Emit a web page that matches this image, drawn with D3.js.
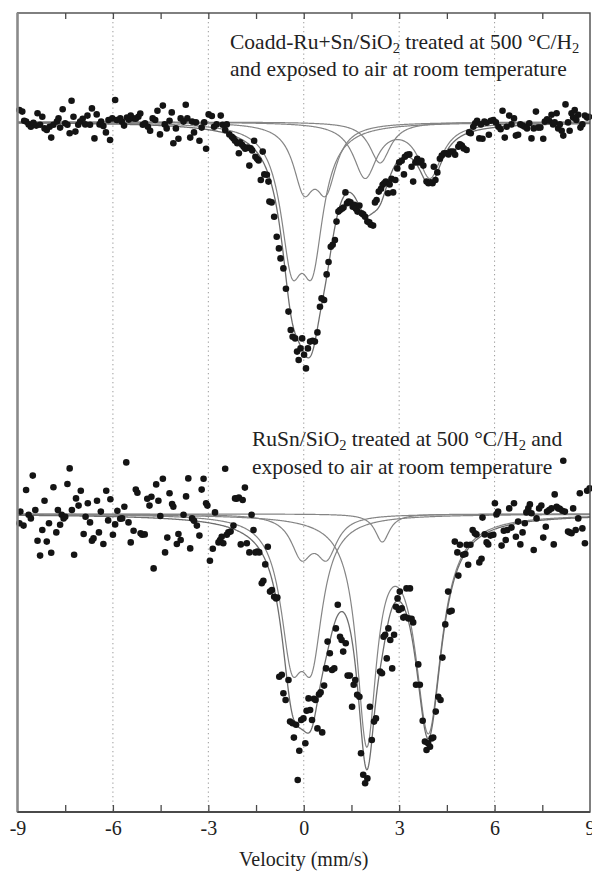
<!DOCTYPE html>
<html>
<head>
<meta charset="utf-8">
<script src="https://cdn.jsdelivr.net/npm/d3@7"></script>
<style>
  body { margin: 0; background: #fff; }
  text { font-family: "Liberation Serif", "Times New Roman", serif; fill: #222; }
</style>
</head>
<body>
<svg id="chart" width="592" height="871"></svg>
<script>
// Mössbauer spectra: velocity (mm/s) vs. relative transmission (%)

// Coadd-Ru+Sn/SiO2 after 500 °C/H2 and air exposure
const coaddSpectrum = [
[-8.94,100.30],[-8.85,100.26],[-8.79,100.03],[-8.73,100.01],[-8.65,99.94],[-8.58,99.88],[-8.50,99.98],[-8.41,99.91],[-8.37,100.22],[-8.29,99.93],[-8.22,100.13],[-8.15,99.84],[-8.08,99.80],[-7.99,99.88],[-7.94,99.61],[-7.87,99.93],[-7.76,100.01],[-7.71,100.09],[-7.66,99.86],[-7.58,100.32],[-7.50,99.97],[-7.43,99.93],[-7.36,99.72],[-7.30,100.53],[-7.24,100.13],[-7.18,99.76],[-7.09,99.93],[-7.03,100.01],[-6.95,100.08],[-6.87,99.94],[-6.80,100.16],[-6.72,99.93],[-6.66,100.34],[-6.58,99.59],[-6.51,100.19],[-6.42,99.94],[-6.37,100.01],[-6.30,99.90],[-6.22,99.74],[-6.14,100.05],[-6.09,99.55],[-6.02,100.09],[-5.93,100.55],[-5.88,100.05],[-5.77,100.09],[-5.72,100.01],[-5.65,99.91],[-5.56,100.11],[-5.50,100.06],[-5.44,100.16],[-5.35,100.09],[-5.28,100.08],[-5.20,100.13],[-5.14,100.21],[-5.06,99.93],[-4.99,99.97],[-4.90,99.88],[-4.83,99.78],[-4.75,100.09],[-4.67,100.05],[-4.60,100.28],[-4.52,99.69],[-4.43,100.41],[-4.37,99.94],[-4.31,99.84],[-4.22,100.03],[-4.15,100.24],[-4.10,99.47],[-4.02,99.84],[-3.94,99.58],[-3.87,100.09],[-3.78,100.01],[-3.71,100.43],[-3.66,100.09],[-3.57,99.61],[-3.51,100.01],[-3.45,99.74],[-3.39,99.99],[-3.28,99.53],[-3.21,99.86],[-3.13,99.99],[-3.07,99.33],[-2.99,100.19],[-2.89,100.15],[-2.82,99.88],[-2.74,99.94],
[-2.61,100.16],[-2.55,99.93],[-2.47,99.80],[-2.42,99.94],[-2.34,99.69],[-2.26,99.63],[-2.21,99.59],[-2.16,99.53],[-2.09,99.47],[-2.04,99.22],[-2.00,99.49],[-1.94,99.43],[-1.89,99.38],[-1.84,99.33],[-1.77,99.36],[-1.71,98.91],[-1.67,99.34],[-1.62,99.29],[-1.56,99.53],[-1.52,99.13],[-1.47,99.08],[-1.42,99.04],[-1.35,98.55],[-1.29,99.26],[-1.24,98.69],[-1.16,98.68],[-1.11,98.51],[-1.08,98.01],[-1.01,97.99],[-0.93,97.63],[-0.85,97.13],[-0.78,96.84],[-0.73,96.59],[-0.64,96.34],[-0.56,95.83],[-0.48,95.26],[-0.41,94.80],[-0.35,94.63],[-0.27,94.59],[-0.21,94.26],[-0.16,94.05],[-0.10,94.34],[-0.05,94.59],[0.01,94.18],[0.07,93.84],[0.13,94.34],[0.20,94.51],[0.28,94.53],[0.35,94.51],[0.43,94.74],[0.51,95.38],[0.56,95.59],[0.64,95.55],[0.72,96.19],[0.78,96.50],[0.85,96.88],[0.91,96.93],[0.98,97.05],[1.03,97.51],[1.09,97.76],[1.14,97.80],[1.20,97.83],[1.25,97.86],[1.31,98.24],[1.36,97.97],[1.41,98.01],[1.47,97.99],[1.54,97.88],[1.59,97.93],[1.64,97.83],[1.69,97.76],[1.75,97.91],[1.82,97.72],[1.87,97.69],[1.93,97.63],[2.00,97.51],[2.06,97.49],[2.11,97.43],[2.18,97.41],[2.24,97.99],[2.29,98.05],[2.36,98.26],[2.43,98.33],[2.48,98.43],[2.53,98.47],[2.58,98.51],[2.65,98.22],[2.70,98.44],[2.76,98.58],[2.81,98.24],[2.88,98.55],[2.94,98.84],[3.00,98.99],
[3.08,99.03],[3.15,98.69],[3.18,99.13],[3.25,99.18],[3.32,99.19],[3.39,98.88],[3.44,98.51],[3.51,98.99],[3.57,99.08],[3.63,98.99],[3.70,99.03],[3.76,98.91],[3.86,98.51],[3.92,98.47],[3.99,98.49],[4.05,98.47],[4.09,98.88],[4.14,98.55],[4.20,98.74],[4.28,99.08],[4.34,99.16],[4.41,99.22],[4.49,99.22],[4.55,99.19],[4.62,99.26],[4.70,99.26],[4.76,99.18],[4.86,99.38],[4.91,99.44],[4.97,99.41],[5.03,99.34],[5.12,99.30],[5.20,99.74],[5.25,99.72],[5.33,99.88],[5.39,99.97],[5.45,100.03],[5.52,99.59],[5.57,99.94],[5.62,99.58],[5.68,100.01],[5.75,99.98],[5.82,99.68],[5.88,100.03],[5.96,100.05],[6.04,99.99],[6.12,99.88],[6.19,99.82],[6.25,100.28],[6.32,99.61],[6.38,99.88],[6.46,100.16],[6.53,99.94],[6.61,100.09],[6.67,99.66],[6.74,99.68],[6.81,99.94],[6.88,99.91],[6.95,99.88],[7.02,99.84],[7.09,99.97],[7.16,99.59],[7.23,99.84],[7.30,100.26],[7.37,99.86],[7.44,99.86],[7.53,99.58],[7.58,100.01],[7.65,100.07],[7.72,100.03],[7.79,100.18],[7.84,99.94],[7.89,99.99],[7.95,100.22],[8.00,99.84],[8.05,99.94],[8.11,99.78],[8.16,99.66],[8.23,100.44],[8.31,99.99],[8.36,99.78],[8.42,100.22],[8.47,100.11],[8.52,100.30],[8.57,100.05],[8.63,100.18],[8.70,99.86],[8.76,99.94],[8.84,100.16],[8.91,100.11],[8.97,100.13]
];

// RuSn/SiO2 after 500 °C/H2 and air exposure
const rusnSpectrum = [
[-8.94,99.77],[-8.91,100.06],[-8.81,99.71],[-8.73,100.60],[-8.65,99.98],[-8.58,99.89],[-8.52,100.96],[-8.44,100.10],[-8.37,99.33],[-8.29,98.96],[-8.22,99.60],[-8.15,100.33],[-8.08,99.31],[-8.01,99.77],[-7.94,99.03],[-7.87,100.67],[-7.78,99.54],[-7.73,100.10],[-7.66,99.73],[-7.61,99.98],[-7.55,99.89],[-7.50,99.93],[-7.43,100.75],[-7.36,101.14],[-7.29,100.10],[-7.22,98.98],[-7.16,100.39],[-7.08,100.21],[-7.01,100.58],[-6.92,99.50],[-6.86,99.93],[-6.79,100.27],[-6.72,99.79],[-6.66,99.33],[-6.61,99.39],[-6.50,100.33],[-6.44,99.54],[-6.38,100.06],[-6.30,99.25],[-6.21,100.58],[-6.15,99.84],[-6.08,100.37],[-6.00,99.48],[-5.93,99.74],[-5.86,100.08],[-5.77,99.88],[-5.71,99.89],[-5.64,100.18],[-5.58,101.29],[-5.51,99.79],[-5.44,99.29],[-5.35,99.58],[-5.28,100.61],[-5.23,100.53],[-5.13,99.52],[-5.08,99.48],[-5.00,99.49],[-4.92,100.38],[-4.85,100.21],[-4.79,100.43],[-4.72,98.64],[-4.64,100.74],[-4.57,100.33],[-4.51,99.95],[-4.43,100.88],[-4.36,99.04],[-4.29,99.41],[-4.22,100.52],[-4.14,100.25],[-4.10,100.18],[-3.99,99.25],[-3.94,99.50],[-3.87,99.35],[-3.78,99.98],[-3.70,100.44],[-3.63,100.89],[-3.57,99.14],[-3.51,99.89],[-3.45,99.83],[-3.36,99.71],[-3.28,99.46],[-3.21,100.61],[-3.15,100.88],[-3.07,100.27],[-3.03,100.21],[-2.95,98.83],[-2.86,99.13],[-2.79,100.04],[-2.68,99.29],
[-2.63,99.35],[-2.58,99.43],[-2.53,99.27],[-2.47,101.13],[-2.42,99.48],[-2.37,99.54],[-2.30,99.56],[-2.21,99.71],[-2.16,100.39],[-2.11,100.38],[-2.04,100.41],[-1.98,99.24],[-1.92,100.35],[-1.85,100.66],[-1.79,99.27],[-1.71,99.04],[-1.64,99.98],[-1.58,99.60],[-1.52,99.04],[-1.46,99.06],[-1.40,99.04],[-1.32,98.27],[-1.27,98.33],[-1.21,98.74],[-1.13,99.18],[-1.06,98.06],[-1.00,98.10],[-0.93,97.93],[-0.87,97.89],[-0.83,97.91],[-0.77,95.93],[-0.69,95.98],[-0.64,95.52],[-0.57,95.35],[-0.48,95.85],[-0.43,94.81],[-0.35,94.77],[-0.31,94.41],[-0.24,94.73],[-0.19,93.35],[-0.14,94.08],[-0.08,94.85],[-0.01,94.89],[0.05,94.27],[0.09,95.08],[0.15,95.39],[0.20,95.10],[0.26,94.85],[0.32,95.38],[0.37,95.35],[0.43,94.64],[0.48,95.49],[0.53,95.54],[0.58,94.54],[0.64,95.71],[0.70,96.14],[0.75,96.81],[0.82,96.52],[0.89,96.10],[0.96,96.14],[1.01,97.14],[1.07,97.73],[1.14,96.93],[1.19,96.85],[1.24,96.56],[1.32,96.77],[1.38,95.96],[1.45,95.96],[1.52,95.18],[1.57,95.73],[1.62,95.85],[1.68,95.48],[1.75,95.43],[1.80,94.02],[1.87,93.48],[1.93,93.27],[2.00,93.39],[2.08,95.18],[2.14,94.35],[2.21,94.81],[2.27,94.89],[2.40,96.06],[2.46,96.02],[2.51,96.93],[2.56,96.98],[2.61,96.39],[2.66,97.14],[2.72,96.85],[2.78,96.14],[2.84,96.98],[2.90,97.68],[2.95,97.89],[2.99,97.60],
[3.02,98.06],[3.08,97.64],[3.13,97.41],[3.18,97.43],[3.23,98.14],[3.29,97.39],[3.34,98.14],[3.39,97.38],[3.44,97.29],[3.53,95.73],[3.60,96.24],[3.65,95.73],[3.74,94.83],[3.81,94.31],[3.86,94.10],[3.91,94.27],[3.97,94.18],[4.02,94.39],[4.07,94.41],[4.15,95.06],[4.23,95.43],[4.30,95.35],[4.36,96.41],[4.45,97.24],[4.54,98.06],[4.59,97.56],[4.65,97.58],[4.75,99.31],[4.83,99.04],[4.86,98.46],[4.91,99.23],[5.01,98.98],[5.08,99.00],[5.12,99.23],[5.17,98.73],[5.24,99.23],[5.31,99.60],[5.38,99.52],[5.43,99.49],[5.52,98.79],[5.59,98.88],[5.62,99.91],[5.69,99.49],[5.75,99.29],[5.80,99.24],[5.87,99.46],[5.96,99.48],[6.01,100.27],[6.06,99.99],[6.11,100.06],[6.22,99.21],[6.29,99.58],[6.35,99.35],[6.40,99.60],[6.46,100.14],[6.53,99.66],[6.61,100.27],[6.67,99.43],[6.74,99.81],[6.81,99.24],[6.88,99.54],[6.95,99.77],[7.00,100.04],[7.06,100.14],[7.11,100.24],[7.16,100.02],[7.23,99.10],[7.32,99.89],[7.40,100.14],[7.47,100.21],[7.53,99.41],[7.61,99.68],[7.65,100.06],[7.72,100.10],[7.79,100.14],[7.86,99.24],[7.89,100.49],[7.95,100.18],[8.00,100.14],[8.05,100.13],[8.13,100.08],[8.16,101.33],[8.21,100.06],[8.31,99.56],[8.36,99.54],[8.42,99.52],[8.47,100.14],[8.55,99.60],[8.63,99.89],[8.68,100.52],[8.76,99.64],[8.84,99.27],[8.91,100.58],[8.99,100.64]
];

// Fitted sub-spectra (Lorentzian lines): centres (mm/s), FWHM (mm/s), depth (%)
const coaddCenters = [[-0.38, 0.27], [0.00, 0.70], [1.93, 3.97], [2.40]];
const coaddWidths  = [[0.85, 0.85], [0.80, 0.80], [0.90, 0.90], [0.80]];
const coaddDepths  = [[3.00, 3.00], [1.485, 1.485], [1.35, 1.35], [1.025]];

const rusnCenters = [[-0.38, 0.25], [-0.07, 0.72], [2.47], [1.98, 3.92]];
const rusnWidths  = [[0.85, 0.85], [0.80, 0.80], [0.55], [0.75, 1.00]];
const rusnDepths  = [[3.05, 3.05], [0.975, 0.975], [0.70], [5.50, 5.30]];

const velocityTicks = [-9, -6, -3, 0, 3, 6, 9];
const minorTicks = [-7.5, -6, -4.5, -3, -1.5, 0, 1.5, 3, 4.5, 6, 7.5];
const gridTicks = [-6, -3, 0, 3, 6];

// ---- layout ----
const svg = d3.select("#chart");
const plotLeft = 17.5, plotRight = 590, plotTop = 13, plotBottom = 812;
const x = d3.scaleLinear().domain([-9, 9]).range([plotLeft, plotRight]);
const y = d3.scaleLinear().domain([82.75, 102.725]).range([plotBottom, plotTop]);
const offsets = { coadd: 0, rusn: -9.8 };

svg.append("rect").attr("width", 592).attr("height", 871).attr("fill", "#fff");

// dotted vertical grid
svg.append("g").selectAll("line").data(gridTicks).join("line")
  .attr("x1", d => x(d)).attr("x2", d => x(d))
  .attr("y1", plotTop).attr("y2", plotBottom)
  .attr("stroke", "#9a9a9a").attr("stroke-width", 1)
  .attr("stroke-dasharray", "1.3,3.2");

// Lorentzian sub-spectrum model
function lorentz(v, c, w, d) {
  const t = (v - c) / (w / 2);
  return d / (1 + t * t);
}
function subSpectrum(centers, widths, depths) {
  return v => centers.reduce((s, c, i) => s + lorentz(v, c, widths[i], depths[i]), 0);
}
const vGrid = d3.range(-9, 9.0001, 0.02);

function drawFit(centers, widths, depths, offset) {
  const comps = centers.map((c, i) => subSpectrum(c, widths[i], depths[i]));
  const g = svg.append("g").attr("fill", "none");
  const line = f => d3.line().x(v => x(v)).y(v => y(100 - f(v) + offset))(vGrid);
  comps.forEach(f => {
    g.append("path").attr("d", line(f)).attr("stroke", "#858585").attr("stroke-width", 1.2);
  });
  const total = v => comps.reduce((s, f) => s + f(v), 0);
  g.append("path").attr("d", line(total)).attr("stroke", "#6e6e6e").attr("stroke-width", 1.3);
}

function drawPoints(data, offset) {
  svg.append("g").selectAll("circle").data(data).join("circle")
    .attr("cx", d => x(d[0])).attr("cy", d => y(d[1] + offset))
    .attr("r", 3.3).attr("fill", "#141414");
}

drawFit(coaddCenters, coaddWidths, coaddDepths, offsets.coadd);
drawFit(rusnCenters, rusnWidths, rusnDepths, offsets.rusn);
drawPoints(coaddSpectrum, offsets.coadd);
drawPoints(rusnSpectrum, offsets.rusn);

// frame
svg.append("rect").attr("x", plotLeft).attr("y", plotTop)
  .attr("width", plotRight - plotLeft).attr("height", plotBottom - plotTop)
  .attr("fill", "none").attr("stroke", "#4a4a4a").attr("stroke-width", 1.4);
svg.append("line").attr("x1", plotLeft).attr("x2", plotLeft).attr("y1", plotTop).attr("y2", plotBottom)
  .attr("stroke", "#8a8a8a").attr("stroke-width", 2.4);

// inward ticks on bottom and top edges
const bottomTicks = svg.append("g").attr("transform", `translate(0,${plotBottom})`)
  .call(d3.axisBottom(x).tickValues(minorTicks).tickSize(-7).tickFormat(""));
const topTicks = svg.append("g").attr("transform", `translate(0,${plotTop})`)
  .call(d3.axisTop(x).tickValues(minorTicks).tickSize(-6).tickFormat(""));
[bottomTicks, topTicks].forEach(g => {
  g.select(".domain").remove();
  g.selectAll("text").remove();
  g.selectAll("line").attr("stroke", "#4a4a4a").attr("stroke-width", 1.3);
});
svg.append("line").attr("x1", plotLeft).attr("x2", plotRight).attr("y1", plotBottom).attr("y2", plotBottom)
  .attr("stroke", "#4a4a4a").attr("stroke-width", 2);

// tick labels
const labels = svg.append("g").attr("transform", `translate(0,${plotBottom})`)
  .call(d3.axisBottom(x).tickValues(velocityTicks).tickSize(0).tickPadding(9).tickFormat(d => String(d)));
labels.select(".domain").remove();
labels.selectAll("text").attr("font-size", 20)
  .style("font-family", "'Liberation Serif','Times New Roman',serif").attr("fill", "#222");

svg.append("text").attr("x", x(0)).attr("y", 866).attr("text-anchor", "middle")
  .attr("font-size", 20).text("Velocity (mm/s)");

// sample annotations; subscripts are given as ["_", text]
function annotate(tx, ty, parts) {
  const t = svg.append("text").attr("x", tx).attr("y", ty).attr("font-size", 21.5);
  let shift = 0;
  parts.forEach(p => {
    if (Array.isArray(p)) {
      t.append("tspan").attr("font-size", 14.5).attr("dy", 4 - shift).text(p[1]);
      shift = 4;
    } else {
      t.append("tspan").attr("dy", -shift).text(p);
      shift = 0;
    }
  });
}
annotate(230, 49, ["Coadd-Ru+Sn/SiO", ["_", "2"], " treated at 500 °C/H", ["_", "2"]]);
annotate(230, 76, ["and exposed to air at room temperature"]);
annotate(252, 446, ["RuSn/SiO", ["_", "2"], " treated at 500 °C/H", ["_", "2"], " and"]);
annotate(252, 474, ["exposed to air at room temperature"]);
</script>
</body>
</html>
